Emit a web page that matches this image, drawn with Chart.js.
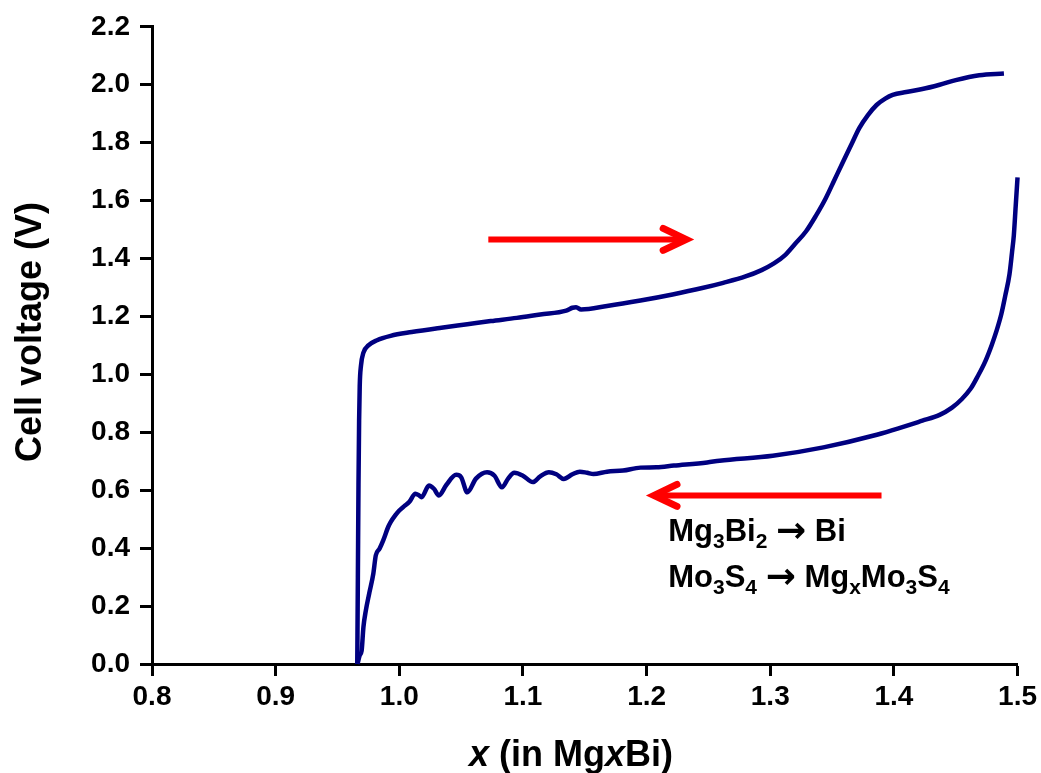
<!DOCTYPE html>
<html>
<head>
<meta charset="utf-8">
<script src="https://cdn.jsdelivr.net/npm/chart.js@4.4.1/dist/chart.umd.min.js"></script>
<style>
  html, body { margin: 0; padding: 0; background: #fff; }
  canvas { display: block; }
</style>
</head>
<body>
<canvas id="chart" width="1041" height="773"></canvas>
<script>
// charge branch (upper curve, arrow to the right)
const chargeX = [0.966, 0.9665, 0.967, 0.9675, 0.968, 0.969, 0.971, 0.975, 0.982, 0.993,
  1.010, 1.034, 1.055, 1.074, 1.095, 1.114, 1.135, 1.140, 1.143, 1.147,
  1.168, 1.195, 1.221, 1.245, 1.262, 1.280, 1.293, 1.303, 1.312, 1.320,
  1.329, 1.337, 1.345, 1.352, 1.359, 1.366, 1.372, 1.379, 1.386, 1.393,
  1.399, 1.410, 1.423, 1.437, 1.450, 1.469, 1.489];
const chargeV = [0.00, 0.30, 0.62, 0.84, 0.96, 1.03, 1.075, 1.10, 1.118, 1.133,
  1.146, 1.161, 1.173, 1.184, 1.195, 1.207, 1.220, 1.230, 1.232, 1.224,
  1.236, 1.255, 1.276, 1.298, 1.316, 1.338, 1.360, 1.383, 1.412, 1.450,
  1.494, 1.548, 1.609, 1.672, 1.735, 1.797, 1.850, 1.895, 1.930, 1.952,
  1.965, 1.975, 1.985, 2.000, 2.016, 2.033, 2.039];

// discharge branch (lower curve, arrow to the left)
const dischargeX = [0.9662, 0.968, 0.9695, 0.971, 0.973, 0.9755, 0.979, 0.981, 0.984, 0.987,
  0.991, 0.993, 0.997, 1.000, 1.004, 1.008, 1.013, 1.016, 1.018, 1.024,
  1.028, 1.032, 1.038, 1.046, 1.050, 1.055, 1.062, 1.071, 1.077, 1.083,
  1.088, 1.093, 1.100, 1.108, 1.114, 1.121, 1.127, 1.133, 1.140, 1.146,
  1.152, 1.157, 1.168, 1.181, 1.195, 1.208, 1.222, 1.249, 1.259, 1.302,
  1.343, 1.383, 1.423, 1.437, 1.447, 1.455, 1.462, 1.468, 1.474, 1.479,
  1.483, 1.487, 1.490, 1.4935, 1.4955, 1.497, 1.4985, 1.500];
const dischargeV = [0.00, 0.03, 0.045, 0.128, 0.186, 0.24, 0.312, 0.375, 0.398, 0.427,
  0.473, 0.490, 0.515, 0.530, 0.545, 0.559, 0.588, 0.582, 0.576, 0.616,
  0.605, 0.582, 0.618, 0.653, 0.645, 0.593, 0.640, 0.662, 0.650, 0.610,
  0.640, 0.660, 0.650, 0.628, 0.648, 0.662, 0.655, 0.639, 0.655, 0.664,
  0.660, 0.656, 0.664, 0.668, 0.678, 0.679, 0.685, 0.696, 0.702, 0.719,
  0.748, 0.788, 0.840, 0.860, 0.885, 0.915, 0.950, 0.995, 1.046, 1.100,
  1.150, 1.210, 1.270, 1.346, 1.420, 1.480, 1.580, 1.680];

const xTicks = [0.8, 0.9, 1.0, 1.1, 1.2, 1.3, 1.4, 1.5];
const yTicks = [0.0, 0.2, 0.4, 0.6, 0.8, 1.0, 1.2, 1.4, 1.6, 1.8, 2.0, 2.2];

const FONT = "'Liberation Sans', Arial, sans-serif";
const ARROW_FONT = "'DejaVu Sans', sans-serif";
const LINE = '#000080';
const RED = '#ff0000';

function toPoints(xs, ys) {
  return xs.map((x, i) => ({ x: x, y: ys[i] }));
}

// arrow from (x0,y) to (x1,y) in data units, head at x1
function drawArrow(ctx, sx, sy, x0, x1, y) {
  const a = sx.getPixelForValue(x0), b = sx.getPixelForValue(x1), py = sy.getPixelForValue(y);
  const dir = b > a ? 1 : -1;
  ctx.save();
  ctx.strokeStyle = RED;
  ctx.lineWidth = 6;
  ctx.beginPath();
  ctx.moveTo(a, py);
  ctx.lineTo(b - dir * 3, py);
  ctx.stroke();
  ctx.lineWidth = 7;
  ctx.lineCap = 'round';
  ctx.beginPath();
  ctx.moveTo(b - dir * 23, py - 11);
  ctx.lineTo(b, py);
  ctx.lineTo(b - dir * 23, py + 11);
  ctx.stroke();
  ctx.restore();
}

function partFont(k, size) {
  if (k === 's') return 'bold ' + Math.round(size * 0.68) + 'px ' + FONT;
  if (k === 'i') return 'italic bold ' + size + 'px ' + FONT;
  if (k === 'a') return 'bold ' + Math.round(size * 1.15) + 'px ' + ARROW_FONT;
  return 'bold ' + size + 'px ' + FONT;
}

// draws text made of [string, kind] parts; n normal, s subscript, i italic, a arrow
function drawRich(ctx, parts, x, y, size) {
  let cx = x;
  parts.forEach(([t, k]) => {
    ctx.font = partFont(k, size);
    ctx.fillText(t, cx, k === 's' ? y + size * 0.22 : (k === 'a' ? y + size * 0.02 : y));
    cx += ctx.measureText(t).width;
  });
  return cx - x;
}

function richWidth(ctx, parts, size) {
  let w = 0;
  parts.forEach(([t, k]) => {
    ctx.font = partFont(k, size);
    w += ctx.measureText(t).width;
  });
  return w;
}

const decor = {
  id: 'decor',
  afterDatasetsDraw(chart) {
    const ctx = chart.ctx;
    const sx = chart.scales.x, sy = chart.scales.y;

    drawArrow(ctx, sx, sy, 1.072, 1.232, 1.466);
    drawArrow(ctx, sx, sy, 1.390, 1.206, 0.582);

    ctx.save();
    ctx.fillStyle = '#000';
    ctx.textBaseline = 'alphabetic';
    ctx.textAlign = 'left';
    const tx = sx.getPixelForValue(1.2175);
    drawRich(ctx, [['Mg', 'n'], ['3', 's'], ['Bi', 'n'], ['2', 's'], [' ', 'n'], ['\u2192', 'a'], [' Bi', 'n']],
      tx, sy.getPixelForValue(0.423), 31);
    drawRich(ctx, [['Mo', 'n'], ['3', 's'], ['S', 'n'], ['4', 's'], [' ', 'n'], ['\u2192', 'a'], [' Mg', 'n'], ['x', 's'],
      ['Mo', 'n'], ['3', 's'], ['S', 'n'], ['4', 's']],
      tx, sy.getPixelForValue(0.265), 31);

    // axis titles
    const xt = [['x', 'i'], [' (in Mg', 'n'], ['x', 'i'], ['Bi)', 'n']];
    const w = richWidth(ctx, xt, 36);
    drawRich(ctx, xt, 571 - w / 2, 766, 36);

    ctx.translate(41, 332);
    ctx.rotate(-Math.PI / 2);
    ctx.textAlign = 'center';
    ctx.font = 'bold 36px ' + FONT;
    ctx.fillText('Cell voltage (V)', 0, 0);
    ctx.restore();
  }
};

const axisCommon = {
  type: 'linear',
  grid: { drawOnChartArea: false, drawTicks: true, tickLength: 12, tickWidth: 3, tickColor: '#000' },
  border: { color: '#000', width: 3 },
};

new Chart(document.getElementById('chart'), {
  type: 'scatter',
  data: {
    datasets: [
      { label: 'charge', data: toPoints(chargeX, chargeV) },
      { label: 'discharge', data: toPoints(dischargeX, dischargeV) }
    ].map(d => Object.assign(d, {
      showLine: true, borderColor: LINE, borderWidth: 4.5, pointRadius: 0,
      cubicInterpolationMode: 'monotone', fill: false, clip: false
    }))
  },
  options: {
    responsive: false,
    devicePixelRatio: 1,
    animation: false,
    layout: { padding: { top: 25, right: 22, left: 0, bottom: 0 } },
    plugins: { legend: { display: false }, tooltip: { enabled: false } },
    scales: {
      x: Object.assign({}, axisCommon, {
        min: 0.8, max: 1.5,
        afterBuildTicks: s => { s.ticks = xTicks.map(v => ({ value: v })); },
        afterFit: s => { s.height = 109; },
        ticks: { color: '#000', padding: 4, font: { family: FONT, size: 28, weight: 'bold' },
          callback: v => v.toFixed(1), maxRotation: 0 }
      }),
      y: Object.assign({}, axisCommon, {
        min: 0, max: 2.2,
        afterBuildTicks: s => { s.ticks = yTicks.map(v => ({ value: v })); },
        afterFit: s => { s.width = 152; },
        ticks: { color: '#000', padding: 10, font: { family: FONT, size: 28, weight: 'bold' },
          callback: v => v.toFixed(1) }
      })
    }
  },
  plugins: [decor]
});
</script>
</body>
</html>
